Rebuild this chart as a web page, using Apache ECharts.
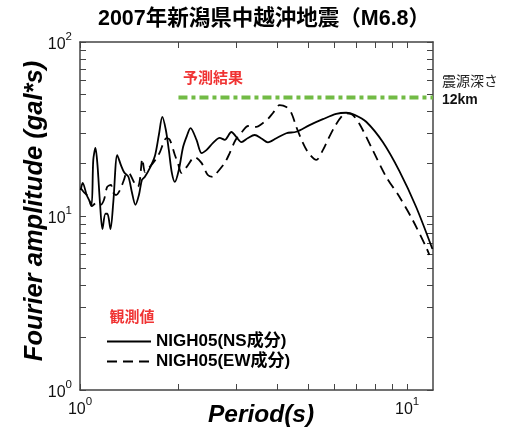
<!DOCTYPE html>
<html>
<head>
<meta charset="utf-8">
<script src="https://cdn.jsdelivr.net/npm/echarts@6/dist/echarts.min.js"></script>
<style>
html,body{margin:0;padding:0;background:#fff;}
#chart{width:509px;height:433px;}
</style>
</head>
<body>
<div id="chart"></div>
<script>
// ---- data ----
var periodsNS = [1.005,1.019,1.048,1.058,1.084,1.098,1.115,1.131,1.151,1.171,1.196,1.213,1.239,1.265,1.300,1.334,1.367,1.406,1.441,1.477,1.514,1.546,1.579,1.636,1.694,1.742,1.785,1.830,1.869,1.909,1.950,2.005,2.066,2.121,2.177,2.271,2.352,2.435,2.551,2.674,2.770,2.904,3.008,3.115,3.264,3.420,3.585,3.754,3.984,4.273,4.585,5.034,5.527,6.072,6.514,6.907,7.497,8.426,9.473,10.65,11.95];
var ampNS = [14.1,15.5,13.2,12.7,11.6,21.0,24.6,19.6,11.9,8.42,10.3,10.3,8.42,12.2,22.4,19.6,17.7,16.8,13.7,11.6,13.2,16.1,16.8,18.9,22.1,29.2,37.1,31.2,23.9,17.7,15.7,18.4,24.9,28.8,32.0,27.4,23.0,23.9,26.3,28.1,27.4,30.4,28.4,26.6,28.1,29.2,27.9,26.5,28.0,29.9,30.5,33.3,36.0,38.6,39.2,38.1,34.8,26.6,18.1,11.3,6.46];
var periodsEW = [1.005,1.028,1.060,1.086,1.124,1.157,1.184,1.211,1.243,1.261,1.288,1.325,1.362,1.391,1.421,1.461,1.503,1.524,1.551,1.579,1.612,1.636,1.714,1.755,1.839,1.882,1.950,1.991,2.043,2.117,2.244,2.352,2.459,2.546,2.600,2.770,2.869,2.992,3.144,3.264,3.461,3.593,3.754,3.890,4.076,4.273,4.426,4.585,4.802,4.974,5.277,5.527,5.725,6.000,6.290,6.514,6.747,7.152,7.852,8.628,9.473,10.40,11.43,11.70];
var ampEW = [14.5,13.7,12.9,11.4,11.9,11.6,12.4,14.7,15.1,13.7,13.2,14.1,16.1,17.7,17.4,15.7,14.7,16.1,21.3,17.9,18.9,19.2,21.5,23.3,28.0,27.4,22.4,20.2,17.7,19.1,21.8,20.2,17.2,16.8,17.4,20.2,23.0,27.4,30.8,32.9,32.5,33.8,36.1,39.1,43.4,42.3,39.1,32.5,26.3,23.3,21.0,23.9,27.4,32.5,37.1,38.9,38.6,33.8,23.9,16.8,12.9,9.48,6.63,5.97];
var predPeriods = [2, 12];
var predAmp = [48, 48];
var xTicks = [1,2,3,4,5,6,7,8,9,10];
var yTicks = [1,2,3,4,5,6,7,8,9,10,20,30,40,50,60,70,80,90,100];
var xLabels = [1,10];
var yLabels = [1,10,100];
var seriesNames = ['NIGH05(NS成分)','NIGH05(EW成分)'];

function pairs(xs, ys){ return xs.map(function(x,i){ return [x, ys[i]]; }); }

var FONT = '"Liberation Sans", Arial, "Noto Sans CJK JP", sans-serif';
var CJK = '"Liberation Sans", Arial, "Noto Sans CJK JP", sans-serif';

function powLabel(v){
  var p = Math.round(Math.log(v)/Math.LN10);
  if (Math.abs(Math.pow(10,p) - v) > 1e-6*v) return '';
  return '{b|10}{s|' + p + '}';
}
var richLab = {
  b: {fontSize: 16, fontFamily: FONT, color: '#111', verticalAlign: 'bottom', lineHeight: 22},
  s: {fontSize: 11.5, fontFamily: FONT, color: '#111', verticalAlign: 'top', lineHeight: 22}
};
var lineCol = '#444';

function mkX(pos, showLabel){
  return {
    type: 'log', logBase: 10, min: 1, max: 12, position: pos, gridIndex: 0,
    axisLine: {show: true, onZero: false, lineStyle: {color: lineCol, width: 1.5}},
    axisTick: {show: true, inside: true, length: 6, customValues: xTicks, lineStyle: {color: lineCol, width: 1}},
    axisLabel: {show: showLabel, customValues: xLabels, formatter: powLabel, rich: richLab, margin: 6},
    splitLine: {show: false}, minorTick: {show: false}
  };
}
function mkY(pos, showLabel){
  return {
    type: 'log', logBase: 10, min: 1, max: 100, position: pos, gridIndex: 0,
    axisLine: {show: true, onZero: false, lineStyle: {color: lineCol, width: 1.5}},
    axisTick: {show: true, inside: true, length: 6, customValues: yTicks, lineStyle: {color: lineCol, width: 1}},
    axisLabel: {show: showLabel, customValues: yLabels, formatter: powLabel, rich: richLab, margin: 8},
    splitLine: {show: false}, minorTick: {show: false}
  };
}

var chart = echarts.init(document.getElementById('chart'), null, {renderer: 'canvas'});
chart.setOption({
  animation: false,
  backgroundColor: '#fff',
  grid: {left: 80, right: 76, top: 42, bottom: 43, containLabel: false},
  xAxis: [mkX('bottom', true), mkX('top', false)],
  yAxis: [mkY('left', true), mkY('right', false)],
  legend: {
    data: seriesNames, orient: 'vertical', left: 101, top: 328,
    itemWidth: 44, itemHeight: 14, itemGap: 3,
    itemStyle: {opacity: 0},
    textStyle: {fontFamily: CJK, fontSize: 17, fontWeight: 'bold', color: '#000'}
  },
  series: [
    {name: seriesNames[0], type: 'line', xAxisIndex: 0, yAxisIndex: 0, data: pairs(periodsNS, ampNS),
     symbol: 'none', smooth: 0.3, lineStyle: {color: '#000', width: 1.8, type: 'solid'}, itemStyle: {color: '#000'}},
    {name: seriesNames[1], type: 'line', xAxisIndex: 0, yAxisIndex: 0, data: pairs(periodsEW, ampEW),
     symbol: 'none', smooth: 0.3, lineStyle: {color: '#000', width: 1.8, type: [10, 6]}, itemStyle: {color: '#000'}},
    {name: '予測結果', type: 'line', xAxisIndex: 0, yAxisIndex: 0, data: pairs(predPeriods, predAmp),
     symbol: 'none', lineStyle: {color: '#72bb45', width: 4, type: [9, 4, 4, 4]}, z: 1}
  ],
  graphic: [
    {type: 'text', x: 264, y: 19, style: {text: '2007年新潟県中越沖地震（M6.8）', font: 'bold 21.5px ' + CJK, fill: '#000', align: 'center', verticalAlign: 'middle'}},
    {type: 'text', x: 35, y: 211, rotation: Math.PI/2, style: {text: 'Fourier amplitude (gal*s)', font: 'italic bold 25.5px ' + FONT, fill: '#000', align: 'center', verticalAlign: 'middle'}},
    {type: 'text', x: 261, y: 415, style: {text: 'Period(s)', font: 'italic bold 24.5px ' + FONT, fill: '#000', align: 'center', verticalAlign: 'middle'}},
    {type: 'text', x: 213, y: 79, style: {text: '予測結果', font: 'bold 15px ' + CJK, fill: '#f03333', align: 'center', verticalAlign: 'middle'}},
    {type: 'text', x: 132, y: 318, style: {text: '観測値', font: 'bold 15px ' + CJK, fill: '#f03333', align: 'center', verticalAlign: 'middle'}},
    {type: 'text', x: 442, y: 82, style: {text: '震源深さ', font: '14px ' + CJK, fill: '#222', align: 'left', verticalAlign: 'middle'}},
    {type: 'text', x: 442, y: 100, style: {text: '12km', font: 'bold 14px ' + FONT, fill: '#111', align: 'left', verticalAlign: 'middle'}}
  ]
});
</script>
</body>
</html>
